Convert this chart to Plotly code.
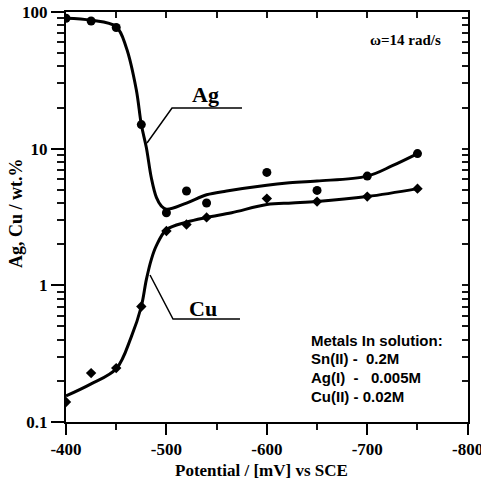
import plotly.graph_objects as go

# ---- data ----
ag_pot = [-400, -425, -450, -475, -500, -520, -540, -600, -650, -700, -750]
ag_val = [90, 86, 77, 15, 3.4, 4.9, 4.0, 6.7, 4.95, 6.3, 9.2]

cu_pot = [-400, -425, -450, -475, -500, -520, -540, -600, -650, -700, -750]
cu_val = [0.14, 0.228, 0.248, 0.70, 2.5, 2.79, 3.14, 4.31, 4.1, 4.46, 5.1]

# smooth fitted curves
ag_fit_pot = [-400, -425, -450, -460, -470, -475, -480, -485, -490, -495, -500,
              -520, -540, -560, -600, -620, -650, -700, -725, -750]
ag_fit_val = [90, 87, 78, 55, 27, 15, 10.2, 6.1, 4.4, 3.8, 3.6,
              4.0, 4.6, 4.9, 5.4, 5.6, 5.8, 6.3, 7.5, 9.2]

cu_fit_pot = [-400, -425, -450, -465, -475, -480, -485, -490, -500,
              -520, -540, -565, -600, -625, -650, -700, -750]
cu_fit_val = [0.155, 0.19, 0.245, 0.42, 0.70, 1.1, 1.55, 1.95, 2.55,
              2.9, 3.14, 3.4, 3.9, 4.0, 4.1, 4.46, 5.1]

x_ticks = [-400, -500, -600, -700, -800]
x_minor = [-450, -550, -650, -750]
y_ticks = [0.1, 1, 10, 100]
y_tick_text = ["0.1", "1", "10", "100"]
y_minor = [0.2, 0.3, 0.4, 0.5, 0.6, 0.7, 0.8, 0.9,
           2, 3, 4, 5, 6, 7, 8, 9,
           20, 30, 40, 50, 60, 70, 80, 90]

SERIF = "Liberation Serif"
SANS = "Liberation Sans"
TICKC = "#151515"

fig = go.Figure()

fig.add_trace(go.Scatter(x=ag_fit_pot, y=ag_fit_val, mode="lines",
                         line=dict(color="black", width=3, shape="spline", smoothing=1.0),
                         showlegend=False, hoverinfo="skip"))
fig.add_trace(go.Scatter(x=cu_fit_pot, y=cu_fit_val, mode="lines",
                         line=dict(color="black", width=3, shape="spline", smoothing=1.0),
                         showlegend=False, hoverinfo="skip"))
fig.add_trace(go.Scatter(x=ag_pot, y=ag_val, mode="markers", name="Ag",
                         marker=dict(symbol="circle", size=9, color="black"),
                         showlegend=False))
fig.add_trace(go.Scatter(x=cu_pot, y=cu_val, mode="markers", name="Cu",
                         marker=dict(symbol="diamond", size=8, color="black"),
                         showlegend=False))
# invisible trace that carries the top/right tick axes
fig.add_trace(go.Scatter(x=[x_ticks[0]], y=[y_ticks[1]], xaxis="x2", yaxis="y2",
                         mode="markers", marker=dict(opacity=0),
                         showlegend=False, hoverinfo="skip"))

tickfont = dict(family=SERIF, size=17, color="black", weight="bold")
XR = [-400, -800.3]

fig.update_layout(
    width=481, height=484,
    margin=dict(l=66, r=13, t=12, b=62),
    paper_bgcolor="white", plot_bgcolor="white",
    showlegend=False,
    xaxis=dict(range=XR, tickvals=x_ticks, ticktext=[str(v) for v in x_ticks],
               ticklabeloverflow="allow", automargin=False,
               showline=True, linecolor="black", linewidth=2,
               ticks="outside", ticklen=11, tickwidth=2, tickcolor="black",
               minor=dict(tickvals=x_minor, ticks="outside", ticklen=6,
                          tickwidth=2, tickcolor=TICKC),
               showgrid=False, zeroline=False, tickfont=tickfont),
    yaxis=dict(type="log", range=[-1, 2], tickvals=y_ticks, ticktext=y_tick_text,
               ticklabeloverflow="allow", automargin=False,
               showline=True, linecolor="black", linewidth=2,
               ticks="outside", ticklen=13, tickwidth=2, tickcolor="black",
               minor=dict(tickvals=y_minor, ticks="outside", ticklen=7,
                          tickwidth=1.5, tickcolor=TICKC),
               showgrid=False, zeroline=False, tickfont=tickfont),
    xaxis2=dict(overlaying="x", side="top", anchor="y", range=XR,
                tickvals=x_ticks + x_minor, showticklabels=False, automargin=False,
                showline=True, linecolor="black", linewidth=2,
                ticks="inside", ticklen=6, tickwidth=1.5, tickcolor=TICKC,
                showgrid=False, zeroline=False),
    yaxis2=dict(overlaying="y", side="right", anchor="x", type="log", range=[-1, 2],
                tickvals=y_ticks + y_minor, showticklabels=False, automargin=False,
                showline=True, linecolor="black", linewidth=2,
                ticks="inside", ticklen=6, tickwidth=1.5, tickcolor=TICKC,
                showgrid=False, zeroline=False),
)

def px2paper(X, Y):
    return (X - 66) / 402.0, (422 - Y) / 410.0

annots = []
ax, ay = px2paper(261, 470)
annots.append(dict(x=ax, y=ay, xref="paper", yref="paper", text="Potential / [mV] vs SCE",
                   showarrow=False, xanchor="center", yanchor="middle",
                   font=dict(family=SERIF, size=17, color="black", weight="bold")))
ax, ay = px2paper(16, 213)
annots.append(dict(x=ax, y=ay, xref="paper", yref="paper", text="Ag, Cu / wt.%",
                   textangle=-90, showarrow=False, xanchor="center", yanchor="middle",
                   font=dict(family=SERIF, size=18, color="black", weight="bold")))
ax, ay = px2paper(405, 40)
annots.append(dict(x=ax, y=ay, xref="paper", yref="paper", text="ω=14 rad/s",
                   showarrow=False, xanchor="center", yanchor="middle",
                   font=dict(family=SERIF, size=15, color="black", weight="bold")))
ax, ay = px2paper(205, 95)
annots.append(dict(x=ax, y=ay, xref="paper", yref="paper", text="Ag",
                   showarrow=False, xanchor="center", yanchor="middle",
                   font=dict(family=SERIF, size=22, color="black", weight="bold")))
ax, ay = px2paper(203, 308)
annots.append(dict(x=ax, y=ay, xref="paper", yref="paper", text="Cu",
                   showarrow=False, xanchor="center", yanchor="middle",
                   font=dict(family=SERIF, size=22, color="black", weight="bold")))
sol_lines = ["Metals In solution:", "Sn(II) -\u00a0\u00a00.2M",
             "Ag(I)\u00a0\u00a0-\u00a0\u00a0 0.005M", "Cu(II) - 0.02M"]
sol_y = [340, 358, 377, 396]
for t, yy in zip(sol_lines, sol_y):
    ax, ay = px2paper(309, yy)
    annots.append(dict(x=ax, y=ay, xref="paper", yref="paper", text=t,
                       showarrow=False, xanchor="left", yanchor="middle",
                       font=dict(family=SANS, size=15, color="black", weight="bold")))
fig.update_layout(annotations=annots)

def leader(points):
    path = ""
    for i, (X, Y) in enumerate(points):
        px, py = px2paper(X, Y)
        path += ("M" if i == 0 else " L") + f" {px:.4f} {py:.4f}"
    return dict(type="path", path=path, xref="paper", yref="paper",
                line=dict(color="black", width=1.5))

fig.update_layout(shapes=[
    leader([(147, 143), (172, 108), (242, 108)]),
    leader([(150, 275), (173, 319), (240, 319)]),
])

fig.write_html("out.html")
